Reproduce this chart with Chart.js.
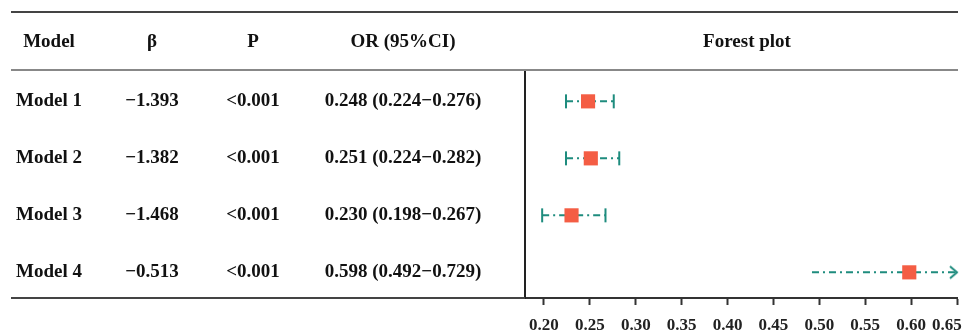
<!DOCTYPE html>
<html>
<head>
<meta charset="utf-8">
<script src="https://cdn.jsdelivr.net/npm/chart.js@4"></script>
<style>
  body { margin: 0; background: #fff; }
</style>
</head>
<body>
<canvas id="forestChart" width="969" height="335"></canvas>
<script>
// Table + forest plot of odds ratios

const models = ['Model 1', 'Model 2', 'Model 3', 'Model 4'];
const betas = ['\u22121.393', '\u22121.382', '\u22121.468', '\u22120.513'];
const pValues = ['<0.001', '<0.001', '<0.001', '<0.001'];
const orValues = [0.248, 0.251, 0.230, 0.598];
const ciLower = [0.224, 0.224, 0.198, 0.492];
const ciUpper = [0.276, 0.282, 0.267, 0.729];
const xTicks = [0.20, 0.25, 0.30, 0.35, 0.40, 0.45, 0.50, 0.55, 0.60, 0.65];

const teal = '#1e8c7e';
const coral = '#f45d44';
const serifBold = 'bold 19px "Liberation Serif", "Times New Roman", serif';

const xMin = 0.1793;
const xMax = 0.65;

// open arrow head used where the CI runs past the axis
const arrow = document.createElement('canvas');
arrow.width = 24;
arrow.height = 16;
const actx = arrow.getContext('2d');
actx.strokeStyle = teal;
actx.lineWidth = 2;
actx.beginPath();
actx.moveTo(5, 2);
actx.lineTo(12, 8);
actx.lineTo(5, 14);
actx.stroke();

const ciSets = models.map((m, i) => {
    const clipped = ciUpper[i] > xMax;
    return {
        type: 'line',
        label: m + ' CI',
        data: [{ x: ciLower[i], y: i + 1 }, { x: Math.min(ciUpper[i], xMax), y: i + 1 }],
        clip: false,
        borderColor: teal,
        borderWidth: 2,
        borderDash: [7, 4, 2, 4],
        pointStyle: clipped ? ['line', arrow] : 'line',
        pointRotation: clipped ? 0 : 90,
        pointRadius: clipped ? [0, 8] : 7,
        pointBorderColor: teal,
        pointBorderWidth: 2
    };
});

const tablePlugin = {
    id: 'table',
    afterDraw(chart) {
        const c = chart.ctx;
        c.save();
        // rules
        c.lineWidth = 2;
        c.strokeStyle = '#444';
        c.beginPath(); c.moveTo(11, 12); c.lineTo(958, 12); c.stroke();
        c.beginPath(); c.moveTo(11, chart.chartArea.bottom); c.lineTo(chart.chartArea.left, chart.chartArea.bottom); c.stroke();
        c.strokeStyle = '#888';
        c.beginPath(); c.moveTo(11, 70); c.lineTo(958, 70); c.stroke();

        c.fillStyle = '#111';
        c.font = serifBold;
        c.textAlign = 'center';
        c.textBaseline = 'middle';
        const cols = [49, 152, 253, 403];
        const head = ['Model', '\u03b2', 'P', 'OR (95%CI)'];
        head.forEach((h, k) => c.fillText(h, cols[k], 42));
        c.fillText('Forest plot', 747, 42);

        const yScale = chart.scales.y;
        models.forEach((m, i) => {
            const y = yScale.getPixelForValue(i + 1);
            const orText = orValues[i].toFixed(3) + ' (' + ciLower[i].toFixed(3) + '\u2212' + ciUpper[i].toFixed(3) + ')';
            [m, betas[i], pValues[i], orText].forEach((t, k) => c.fillText(t, cols[k], y));
        });
        c.restore();
    }
};

const ctx = document.getElementById('forestChart').getContext('2d');
const forestChart = new Chart(ctx, {
    type: 'scatter',
    data: {
        datasets: [
            {
                label: 'OR',
                data: orValues.map((v, i) => ({ x: v, y: i + 1 })),
                pointStyle: 'rect',
                pointRadius: 10,
                pointBackgroundColor: coral,
                pointBorderWidth: 0
            },
            ...ciSets
        ]
    },
    options: {
        responsive: false,
        devicePixelRatio: 1,
        animation: false,
        layout: {
            padding: { left: 525, right: 12, top: 70, bottom: 0 }
        },
        scales: {
            x: {
                type: 'linear',
                min: xMin,
                max: xMax,
                afterBuildTicks: axis => { axis.ticks = xTicks.map(v => ({ value: v })); },
                afterFit: axis => { axis.paddingRight = 0; axis.height = 37; },
                ticks: {
                    color: '#222',
                    padding: 10,
                    maxRotation: 0,
                    autoSkip: false,
                    font: { family: '"Liberation Serif", serif', size: 17, weight: 'bold' },
                    callback: v => v === 0.65 ? v.toFixed(2) + '\u2007\u2007\u2009' : v.toFixed(2)
                },
                grid: {
                    drawOnChartArea: false,
                    tickLength: 7,
                    tickColor: '#333',
                    tickWidth: 2
                },
                border: { display: true, color: '#333', width: 2 }
            },
            y: {
                type: 'linear',
                min: 0.45,
                max: 4.45,
                reverse: true,
                ticks: { display: false },
                grid: { display: false, drawTicks: false },
                border: { display: true, color: '#222', width: 2 }
            }
        },
        plugins: {
            legend: { display: false },
            tooltip: { enabled: false }
        }
    },
    plugins: [tablePlugin]
});
</script>
</body>
</html>
